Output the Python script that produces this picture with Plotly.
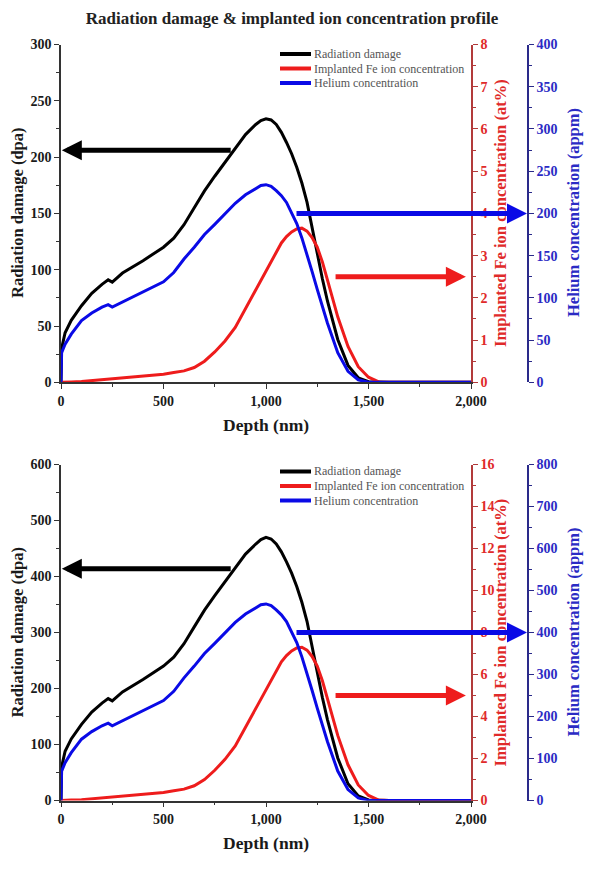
import plotly.graph_objects as go

# ---------------- data ----------------
depth_nm = [0, 3, 20, 50, 100, 150, 200, 230, 250, 300,
            400, 500, 550, 600, 650, 700, 750, 800, 850, 900,
            950, 975, 1000, 1025, 1050, 1075, 1100, 1125, 1150, 1175,
            1200, 1225, 1250, 1275, 1300, 1350, 1400, 1450, 1500, 1550,
            1600, 2000]

# top panel
damage_top = [0, 30, 44, 55, 68, 79, 87, 91, 89, 97,
              108, 120, 128, 140, 155, 170, 183, 195, 208, 220,
              229, 232.5, 234, 233, 229, 222, 213, 203, 191, 177,
              160, 137, 113, 92, 72, 38, 15, 4, 0.5, 0,
              0, 0]
fe_top = [0, 0, 0.01, 0.01, 0.02, 0.04, 0.06, 0.07, 0.08, 0.1,
          0.14, 0.19, 0.23, 0.27, 0.35, 0.5, 0.72, 0.98, 1.3, 1.75,
          2.2, 2.42, 2.65, 2.88, 3.1, 3.3, 3.45, 3.56, 3.63, 3.65,
          3.58, 3.43, 3.2, 2.85, 2.42, 1.55, 0.85, 0.37, 0.12, 0.01,
          0, 0]
he_top = [0, 35, 45, 57, 73, 82, 89, 92, 89, 95,
          107, 119, 130, 146, 160, 175, 187, 199, 212, 222,
          230, 233, 234, 232, 227, 221, 213, 201, 188, 171,
          152, 131, 110, 90, 70, 35, 13, 3, 0, 0,
          0, 0]

# bottom panel
damage_bot = [0, 60, 88, 110, 136, 158, 174, 182, 178, 194,
              216, 240, 256, 280, 310, 340, 366, 390, 416, 440,
              458, 466, 470, 467, 458, 444, 426, 406, 382, 354,
              320, 274, 226, 184, 144, 76, 30, 8, 1, 0,
              0, 0]
fe_bot = [0, 0, 0.02, 0.02, 0.04, 0.08, 0.12, 0.14, 0.16, 0.2,
          0.28, 0.38, 0.46, 0.54, 0.7, 1.0, 1.44, 1.96, 2.6, 3.5,
          4.4, 4.84, 5.3, 5.76, 6.2, 6.6, 6.9, 7.12, 7.26, 7.3,
          7.16, 6.86, 6.4, 5.7, 4.84, 3.1, 1.7, 0.74, 0.24, 0.02,
          0, 0]
he_bot = [0, 70, 90, 114, 146, 164, 178, 184, 178, 190,
          214, 238, 260, 292, 320, 350, 374, 398, 424, 444,
          460, 466, 468, 464, 454, 442, 426, 402, 376, 342,
          304, 262, 220, 180, 140, 70, 26, 6, 0, 0,
          0, 0]

series_names = ["Radiation damage", "Implanted Fe ion concentration", "Helium concentration"]

# arrow markers (value levels on each axis, and tail depths)
top_arrow_levels = [206, 2.5, 200]      # dpa, at%, appm
bot_arrow_levels = [414, 5, 400]
arrow_tail_depth = [835, 1332, 1144]

# ---------------- figure ----------------
OFF = 8                      # page body margin of the browser
W, H = 606 - OFF, 871 - OFF
SERIF = "Liberation Serif"
BLACK, RED, BLUE = "#000000", "#ee1c1c", "#0a0ae6"
RED_TXT, BLUE_TXT = "#e02a2a", "#2b2bc4"
RED_LINE, BLUE_LINE = "#b23a3a", "#2a2a8a"
COLORS = [BLACK, RED, BLUE]


def px_x(p):
    return (p - OFF) / W


def px_y(p):
    return 1 - (p - OFF) / H


x_dom = [px_x(61), px_x(471)]
top_dom = [px_y(382.3), px_y(44.5)]
bot_dom = [px_y(800.5), px_y(464.5)]
blue_pos = px_x(528)

fig = go.Figure()

panels = [
    dict(x="x", yl="y", yr="y2", yb="y3", d=damage_top, f=fe_top, h=he_top),
    dict(x="x2", yl="y4", yr="y5", yb="y6", d=damage_bot, f=fe_bot, h=he_bot),
]

for p in panels:
    for name, vals, col, ya in zip(series_names, [p["d"], p["f"], p["h"]], COLORS,
                                   [p["yl"], p["yr"], p["yb"]]):
        fig.add_trace(go.Scatter(x=depth_nm, y=vals, mode="lines", name=name,
                                 line=dict(color=col, width=3), xaxis=p["x"], yaxis=ya,
                                 showlegend=False))

tickfont_k = dict(family=SERIF, size=14, color="#1a1a1a", weight="bold")
tickfont_r = dict(family=SERIF, size=14, color=RED_TXT, weight="bold")
tickfont_b = dict(family=SERIF, size=14, color=BLUE_TXT, weight="bold")


def xaxis_cfg(anchor):
    return dict(domain=x_dom, anchor=anchor, range=[0, 2000], dtick=500, tickformat=",",
                ticks="outside", ticklen=5, tickwidth=1.2, tickcolor="#333",
                minor=dict(ticks="outside", ticklen=3, dtick=250, tickcolor="#333"),
                showline=True, linecolor="#333", linewidth=1.5, showgrid=False,
                zeroline=False, tickfont=tickfont_k, automargin=False, fixedrange=True)


def yaxis_cfg(dom, rng, dtick, anchor, font, color, side="left", overlaying=None,
              position=None):
    cfg = dict(domain=dom, range=rng, dtick=dtick, anchor=anchor, side=side,
               ticks="outside", ticklen=5, tickwidth=1.2, tickcolor=color,
               minor=dict(ticks="outside", ticklen=3, dtick=dtick / 2, tickcolor=color),
               showline=True, linecolor=color, linewidth=1.5, showgrid=False,
               zeroline=False, tickfont=font, automargin=False, fixedrange=True)
    if overlaying:
        cfg["overlaying"] = overlaying
    if position is not None:
        cfg["position"] = position
    return cfg


fig.update_layout(
    xaxis=xaxis_cfg("y"),
    yaxis=yaxis_cfg(top_dom, [0, 300], 50, "x", tickfont_k, "#333"),
    yaxis2=yaxis_cfg(top_dom, [0, 8], 1, "x", tickfont_r, RED_LINE, side="right",
                     overlaying="y"),
    yaxis3=yaxis_cfg(top_dom, [0, 400], 50, "free", tickfont_b, BLUE_LINE, side="right",
                     overlaying="y", position=blue_pos),
    xaxis2=xaxis_cfg("y4"),
    yaxis4=yaxis_cfg(bot_dom, [0, 600], 100, "x2", tickfont_k, "#333"),
    yaxis5=yaxis_cfg(bot_dom, [0, 16], 2, "x2", tickfont_r, RED_LINE, side="right",
                     overlaying="y4"),
    yaxis6=yaxis_cfg(bot_dom, [0, 800], 100, "free", tickfont_b, BLUE_LINE, side="right",
                     overlaying="y4", position=blue_pos),
)

annotations = []
shapes = []

# legends (drawn as line samples + labels, one per panel)
legend_rows = [[54, 68.5, 83], [471.5, 486, 500.5]]
for rows in legend_rows:
    for name, col, yy in zip(series_names, COLORS, rows):
        shapes.append(dict(type="line", xref="paper", yref="paper",
                           x0=px_x(280), x1=px_x(311), y0=px_y(yy), y1=px_y(yy),
                           line=dict(color=col, width=4)))
        annotations.append(dict(text=name, xref="paper", yref="paper", x=px_x(312),
                                y=px_y(yy), xanchor="left", yanchor="middle",
                                showarrow=False,
                                font=dict(family=SERIF, size=12, color="#555")))

title_font = dict(family=SERIF, size=16.5, weight="bold")


def axis_titles(center_y, depth_y):
    return [
        dict(text="Radiation damage (dpa)", x=px_x(17), y=px_y(center_y), textangle=-90,
             font=dict(color="#1a1a1a", **title_font)),
        dict(text="Implanted Fe ion concentration (at%)", x=px_x(500), y=px_y(center_y),
             textangle=-90, font=dict(color=RED_TXT, **title_font)),
        dict(text="Helium concentration (appm)", x=px_x(573), y=px_y(center_y),
             textangle=-90, font=dict(color=BLUE_TXT, **title_font)),
        dict(text="Depth (nm)", x=px_x(266), y=px_y(depth_y),
             font=dict(color="#1a1a1a", family=SERIF, size=17.5, weight="bold")),
    ]


for a in axis_titles(213, 425) + axis_titles(632.5, 843):
    a.update(xref="paper", yref="paper", showarrow=False, xanchor="center", yanchor="middle")
    annotations.append(a)


def arrows(xref, yl, yr, yb, levels):
    return [
        dict(xref=xref, yref=yl, x=4, y=levels[0], axref=xref, ayref=yl,
             ax=arrow_tail_depth[0], ay=levels[0], arrowcolor=BLACK),
        dict(xref=xref, yref=yr, x=1975, y=levels[1], axref=xref, ayref=yr,
             ax=arrow_tail_depth[1], ay=levels[1], arrowcolor=RED),
        dict(xref="paper", yref=yb, x=px_x(527), y=levels[2], ax=-(527 - 295), ay=0,
             arrowcolor=BLUE),
    ]


for a in arrows("x", "y", "y2", "y3", top_arrow_levels) + \
        arrows("x2", "y4", "y5", "y6", bot_arrow_levels):
    a.update(text="", showarrow=True, arrowhead=2, arrowsize=0.8, arrowwidth=5,
             standoff=0, startstandoff=0)
    annotations.append(a)

fig.update_layout(
    annotations=annotations,
    shapes=shapes,
    title=dict(text="Radiation damage & implanted ion concentration profile",
               x=px_x(292), xanchor="center", y=1 - (18 - OFF) / H, yanchor="middle",
               yref="container", font=dict(family=SERIF, size=17, color="#222", weight="bold")),
    width=W, height=H,
    margin=dict(l=0, r=0, t=0, b=0),
    paper_bgcolor="white", plot_bgcolor="white",
    showlegend=False,
)

fig.write_html("out.html")
